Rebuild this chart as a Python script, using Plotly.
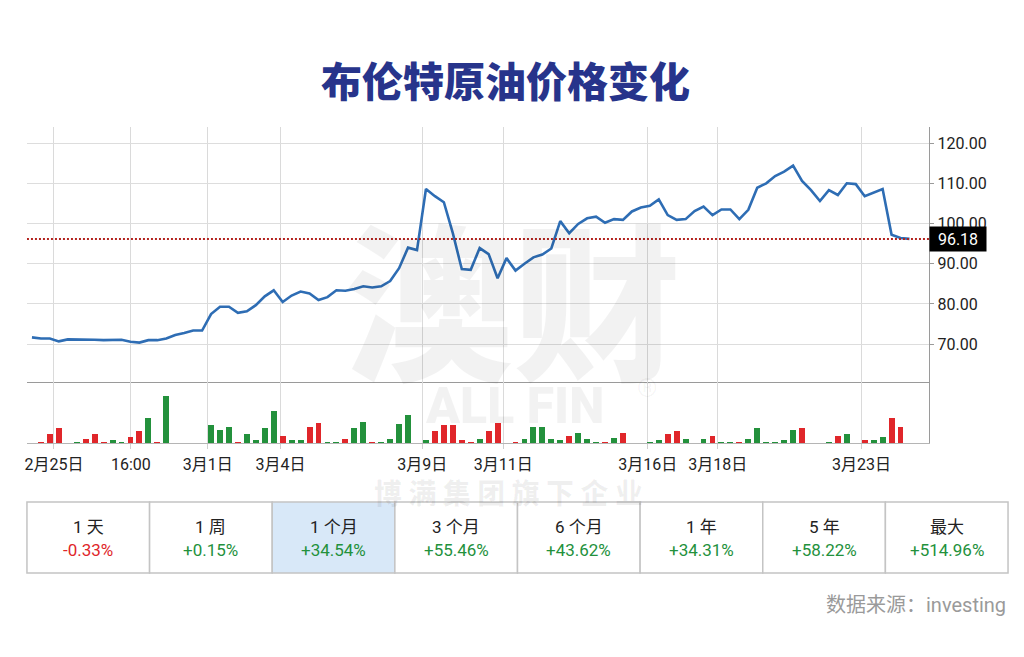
import plotly.graph_objects as go

W, H = 1024, 657

# ---------------- data ----------------
price = [71.7, 71.4, 71.4, 70.7, 71.2, 71.2, 71.2, 71.1, 71.0, 71.0,
         71.1, 70.6, 70.4, 71.0, 71.0, 71.4, 72.3, 72.8, 73.4, 73.4,
         77.5, 79.3, 79.3, 77.8, 78.2, 79.7, 81.9, 83.4, 80.5, 82.1,
         83.1, 82.6, 81.0, 81.7, 83.4, 83.3, 83.7, 84.4, 84.1, 84.4,
         85.7, 88.9, 94.0, 93.4, 108.6, 106.8, 105.3, 97.6, 88.7, 88.5,
         93.9, 92.4, 86.4, 91.4, 88.3, 90.0, 91.6, 92.3, 93.8, 100.6,
         97.6, 99.9, 101.3, 101.7, 100.2, 101.1, 100.9, 103.0, 104.0, 104.4,
         106.0, 102.1, 100.9, 101.1, 103.1, 104.2, 102.1, 103.5, 103.5, 101.1,
         103.4, 108.9, 110.0, 111.8, 112.9, 114.4, 110.6, 108.3, 105.6, 108.3,
         107.1, 110.0, 109.8, 106.8, 107.8, 108.6, 97.2, 96.4, 96.18]

volume = [0, 1.3, 8.7, 15, 0, 1, 4.3, 8.7, 1.3, 3,
          1, 5.7, 12, 25.3, 1.3, 46.7, 0, 0, 0, 0,
          18, 13, 16.3, 1.3, 8.7, 2.7, 14.7, 32, 7.3, 2.7,
          2.7, 16, 20, 1, 1, 4.3, 14.7, 20.7, 1.3, 1,
          4.3, 19.3, 28.3, 0, 3, 11.7, 18, 18, 3, 1.3,
          4.3, 12, 20, 0, 1.3, 4.3, 16, 16, 4.3, 3,
          7.3, 10.3, 4.3, 1, 1.3, 5.3, 10.3, 0, 0, 1,
          3, 9, 12, 4.3, 0, 4, 7.3, 1, 1, 1.3,
          4.3, 14.7, 1, 1, 2.7, 13.3, 14.7, 0, 0, 1,
          7.3, 8.7, 0, 3, 3, 5.7, 25.3, 16, 0]

# u = up (green), d = down (red), one letter per bar
vol_dir = list("dddduudddu"
               "udduduuuuu"
               "uuuduuuudu"
               "udduuduudu"
               "uuuuuddddd"
               "udduduuuuu"
               "duuududuuu"
               "udduuuduud"
               "uuuuuuduuu"
               "duuduuddu")

last_price = 96.18

tick_pos = [2.45, 11.04, 19.62, 27.76, 43.59, 52.62, 68.78, 76.59, 92.64]
tick_text = ["2月25日", "16:00", "3月1日", "3月4日", "3月9日", "3月11日",
             "3月16日", "3月18日", "3月23日"]

periods = ["1 天", "1 周", "1 个月", "3 个月", "6 个月", "1 年", "5 年", "最大"]
changes = ["-0.33%", "+0.15%", "+34.54%", "+55.46%", "+43.62%", "+34.31%",
           "+58.22%", "+514.96%"]
selected = 2

x = list(range(len(price)))

GREEN = "#23913c"
RED = "#e0262a"
BLUE = "#2e6db4"
FONT = "Roboto, 'Noto Sans CJK SC', sans-serif"


def px(v):
    return v / W


def py(v):
    return 1 - v / H


fig = go.Figure()

fig.add_trace(go.Scatter(
    x=x, y=price, mode="lines",
    line=dict(color=BLUE, width=2.6),
    xaxis="x", yaxis="y", hoverinfo="skip", showlegend=False))

fig.add_trace(go.Bar(
    x=x, y=volume,
    marker=dict(color=[GREEN if d == "u" else RED for d in vol_dir], line=dict(width=0)),
    width=0.66, xaxis="x2", yaxis="y2", hoverinfo="skip", showlegend=False))

x_range = [-0.56, 100.2]
x_dom = [px(25), px(929)]

# last price dotted line
fig.add_trace(go.Scatter(
    x=x_range, y=[last_price, last_price], mode="lines",
    line=dict(color="#b3231f", width=2, dash="2px,2px"),
    xaxis="x", yaxis="y", hoverinfo="skip", showlegend=False))

grid_c = "#dadada"
fig.update_layout(
    width=W, height=H,
    margin=dict(l=0, r=0, t=0, b=0),
    paper_bgcolor="white", plot_bgcolor="white",
    font=dict(family=FONT, color="#222"),
    bargap=0,
    xaxis=dict(domain=x_dom, range=x_range, anchor="y",
               tickmode="array", tickvals=tick_pos, ticktext=tick_text,
               showticklabels=False, showgrid=True, gridcolor=grid_c, gridwidth=1,
               showline=True, linecolor="#9a9a9a", linewidth=1.2,
               zeroline=False, ticks=""),
    yaxis=dict(domain=[py(382), py(127)], range=[60.6, 124.0], anchor="x",
               side="right", tickmode="linear", tick0=70, dtick=10,
               tickformat=".2f", tickfont=dict(size=16, color="#222"),
               showgrid=True, gridcolor="#dddddd", gridwidth=1,
               showline=True, linecolor="#9a9a9a", linewidth=1.2,
               ticks="outside", ticklen=4, tickcolor="#9a9a9a",
               zeroline=False),
    xaxis2=dict(domain=x_dom, range=x_range, anchor="y2",
                tickmode="array", tickvals=tick_pos, ticktext=tick_text,
                tickfont=dict(size=16, color="#222"),
                showgrid=True, gridcolor=grid_c, gridwidth=1,
                showline=True, linecolor="#b5b5b5", linewidth=1.2,
                ticks="outside", ticklen=5, tickcolor="#cfcfcf",
                ticklabelstandoff=2, zeroline=False),
    yaxis2=dict(domain=[py(443), py(382)], range=[0, 61], anchor="x2",
                side="right", showticklabels=False, showgrid=False,
                showline=True, linecolor="#9a9a9a", linewidth=1.2,
                zeroline=False, ticks=""),
)

annotations = []
shapes = []

# title
annotations.append(dict(
    x=px(504), y=py(79), xref="paper", yref="paper", showarrow=False,
    text="布伦特原油价格变化", xanchor="center", yanchor="middle",
    font=dict(family="'Noto Sans CJK SC', sans-serif", size=41, color="#27348b", weight=900)))

# watermark
annotations.append(dict(
    x=px(512), y=py(294), xref="paper", yref="paper", showarrow=False,
    text="澳财", xanchor="center", yanchor="middle",
    font=dict(family="'Noto Sans CJK SC', sans-serif", size=168, color="rgba(0,0,0,0.05)", weight=900)))
annotations.append(dict(
    x=px(514), y=py(406), xref="paper", yref="paper", showarrow=False,
    text="ALL FIN", xanchor="center", yanchor="middle",
    font=dict(family="Roboto, sans-serif", size=50, color="rgba(0,0,0,0.05)", weight=900)))
annotations.append(dict(
    x=px(646), y=py(388), xref="paper", yref="paper", showarrow=False,
    text="®", xanchor="center", yanchor="middle",
    font=dict(family="Roboto, sans-serif", size=26, color="rgba(0,0,0,0.05)")))
annotations.append(dict(
    x=px(507), y=py(492), xref="paper", yref="paper", showarrow=False,
    text="博 满 集 团 旗 下 企 业", xanchor="center", yanchor="middle",
    font=dict(family="'Noto Sans CJK SC', sans-serif", size=28, color="rgba(0,0,0,0.06)", weight=900)))

# last price tag
annotations.append(dict(
    x=px(929), y=last_price, xref="paper", yref="y", showarrow=False,
    text=f"{last_price:.2f}", xanchor="left", yanchor="middle",
    bgcolor="black", width=56, height=24, borderpad=0,
    font=dict(family="Roboto, sans-serif", size=16, color="white")))

# performance table
t_left, t_right, t_top, t_bot = 25, 1008, 502, 573
n = len(periods)
cw = (t_right - t_left) / n
for i, (p, c) in enumerate(zip(periods, changes)):
    x0 = t_left + i * cw
    x1 = x0 + cw
    shapes.append(dict(
        type="rect", xref="paper", yref="paper",
        x0=px(x0), x1=px(x1), y0=py(t_bot), y1=py(t_top),
        line=dict(color="#c4c4c4", width=1.5),
        fillcolor="#d8e8f8" if i == selected else "white", layer="below"))
    cx = (x0 + x1) / 2
    annotations.append(dict(
        x=px(cx), y=py(527), xref="paper", yref="paper", showarrow=False,
        text=p, xanchor="center", yanchor="middle",
        font=dict(family=FONT, size=17, color="#222")))
    annotations.append(dict(
        x=px(cx), y=py(550), xref="paper", yref="paper", showarrow=False,
        text=c, xanchor="center", yanchor="middle",
        font=dict(family=FONT, size=17, color=RED if c.startswith("-") else GREEN)))

# source
annotations.append(dict(
    x=px(1008), y=py(605), xref="paper", yref="paper", showarrow=False,
    text="数据来源：investing", xanchor="right", yanchor="middle",
    font=dict(family=FONT, size=20, color="#9a9a9a")))

fig.update_layout(annotations=annotations, shapes=shapes)

fig.write_html(
    "out.html",
    config={"displayModeBar": False, "staticPlot": True},
    post_script="document.body.style.margin='0';document.body.style.overflow='hidden';")
